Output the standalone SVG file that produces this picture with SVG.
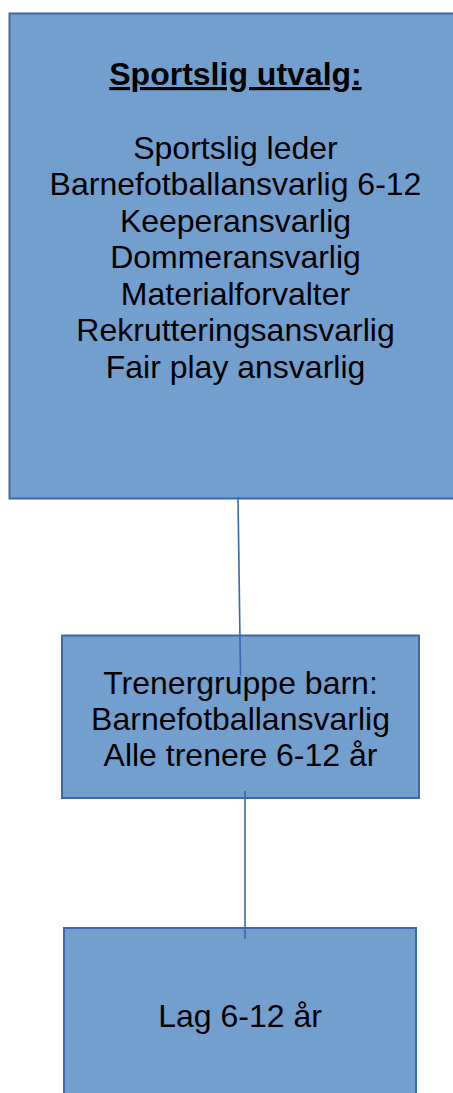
<svg xmlns="http://www.w3.org/2000/svg" width="453" height="1093" viewBox="0 0 453 1093">
<style>
.box{fill:#739fcf;stroke:#3b68aa;stroke-width:2}
.t{font-family:"Liberation Sans",Arial,sans-serif;font-size:32px;fill:#000;text-anchor:middle}
.h{font-weight:bold;text-decoration:underline}
.c{stroke:#3b68aa;stroke-width:1.6;fill:none}
</style>
<rect width="453" height="1093" fill="#fff"/>
<g id="node-sportslig">
<rect class="box" x="9.5" y="13.5" width="452" height="485"/>
<text class="t h" x="235.5" y="85">Sportslig utvalg:</text>
<text class="t" x="235.5" y="158.5">Sportslig leder</text>
<text class="t" x="235.5" y="195">Barnefotballansvarlig 6-12</text>
<text class="t" x="235.5" y="231.5">Keeperansvarlig</text>
<text class="t" x="235.5" y="268">Dommeransvarlig</text>
<text class="t" x="235.5" y="304.5">Materialforvalter</text>
<text class="t" x="235.5" y="341">Rekrutteringsansvarlig</text>
<text class="t" x="235.5" y="377.5">Fair play ansvarlig</text>
</g>
<g id="node-trenergruppe">
<rect class="box" x="62" y="635.5" width="357" height="162.5"/>
<text class="t" x="240.5" y="693.5">Trenergruppe barn:</text>
<text class="t" x="240.5" y="729.5">Barnefotballansvarlig</text>
<text class="t" x="240.5" y="765.5">Alle trenere 6-12 år</text>
</g>
<g id="node-lag">
<rect class="box" x="64" y="928" width="352" height="180"/>
<text class="t" x="240" y="1026.5">Lag 6-12 år</text>
</g>
<g id="connectors">
<line class="c" x1="238" y1="497" x2="240.5" y2="676"/>
<line class="c" x1="245" y1="791" x2="245" y2="939"/>
</g>
</svg>
